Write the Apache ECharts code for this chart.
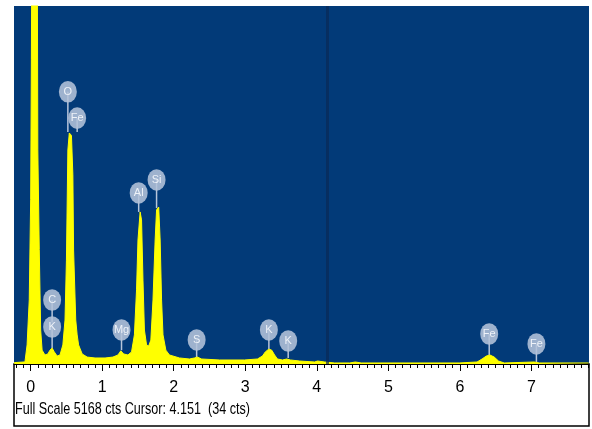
<!DOCTYPE html>
<html>
<head>
<meta charset="utf-8">
<script src="https://cdn.jsdelivr.net/npm/echarts@6/dist/echarts.min.js"></script>
<style>
  html, body { margin: 0; padding: 0; background: #fff; }
  #main { width: 592px; height: 429px; }
</style>
</head>
<body>
<div id="main"></div>
<script>
// spectrum (keV, counts)
var energy = [-0.23, -0.08, -0.05, -0.02, 0.00, 0.01, 0.02, 0.09, 0.10, 0.12,
  0.14, 0.16, 0.20, 0.24, 0.27, 0.30, 0.33, 0.37, 0.41, 0.45,
  0.48, 0.50, 0.52, 0.54, 0.57, 0.59, 0.60, 0.63, 0.65, 0.67,
  0.72, 0.79, 0.90, 1.04, 1.15, 1.22, 1.26, 1.30, 1.36, 1.41,
  1.45, 1.48, 1.50, 1.53, 1.55, 1.57, 1.59, 1.62, 1.65, 1.68,
  1.71, 1.74, 1.76, 1.79, 1.81, 1.83, 1.85, 1.89, 1.94, 2.08,
  2.22, 2.29, 2.33, 2.39, 2.64, 2.99, 3.17, 3.24, 3.28, 3.33,
  3.37, 3.41, 3.45, 3.52, 3.58, 3.63, 3.76, 3.97, 4.01, 4.11,
  4.25, 4.46, 4.54, 4.62, 5.15, 5.99, 6.24, 6.31, 6.37, 6.42,
  6.48, 6.54, 6.62, 7.04, 7.11, 7.80]
var counts = [20, 30, 275, 925, 2370, 4390, 7000, 7000, 3090, 1650,
  490, 200, 130, 145, 200, 230, 175, 115, 130, 275,
  635, 1500, 3090, 3335, 3300, 2730, 1645, 635, 420, 275,
  145, 100, 87, 87, 100, 130, 190, 145, 130, 175,
  420, 1070, 1790, 2195, 2080, 1210, 490, 275, 260, 345,
  925, 1790, 2225, 2265, 1790, 925, 420, 200, 130, 87,
  72, 87, 100, 72, 58, 58, 72, 115, 175, 215,
  200, 130, 72, 58, 72, 58, 43, 29, 43, 29,
  15, 15, 29, 15, 15, 15, 29, 72, 115, 130,
  100, 43, 15, 29, 15, 15]

// element markers: name, label position, where the stem ends
var peakNames = ['O', 'Fe', 'C', 'K', 'Mg', 'Al', 'Si', 'S', 'K', 'K', 'Fe', 'Fe']
var peakX = [0.52, 0.65, 0.30, 0.30, 1.27, 1.51, 1.76, 2.32, 3.33, 3.60, 6.41, 7.07]
var peakY = [3930, 3550, 924, 534, 491, 2469, 2657, 347, 491, 332, 433, 289]
var stemY = [3350, 3350, 600, 230, 200, 2195, 2250, 100, 215, 87, 130, 29]

var majorTicks = [0, 1, 2, 3, 4, 5, 6, 7]
var fullScale = 5168
var cursorKeV = 4.151
var cursorCts = 34
var xMin = -0.233
var xMax = 7.805

var minorTicks = []
for (var t = -2; t <= 78; t++) minorTicks.push(t / 10)

var spectrum = energy.map(function (e, i) { return [e, counts[i]] })
var peaks = peakX.map(function (x, i) { return [x, peakY[i], stemY[i], i] })

var chart = echarts.init(document.getElementById('main'))
var option = {
  animation: false,
  backgroundColor: '#fff',
  grid: {
    left: 14, right: 3, top: 6, bottom: 65,
    show: true, backgroundColor: '#023a78', borderWidth: 0
  },
  xAxis: [{
    type: 'value', min: xMin, max: xMax, position: 'bottom',
    axisLine: { show: true, lineStyle: { color: '#000', width: 1 } },
    axisTick: { show: true, customValues: majorTicks, length: 7, lineStyle: { color: '#000' } },
    axisLabel: {
      customValues: majorTicks, color: '#000', fontSize: 16, margin: 16,
      fontFamily: 'Liberation Sans Narrow, Liberation Sans, sans-serif'
    },
    splitLine: { show: false }
  }, {
    // minor ticks every 0.1 keV
    type: 'value', min: xMin, max: xMax, position: 'bottom',
    axisLine: { show: false },
    axisTick: { show: true, customValues: minorTicks, length: 4, lineStyle: { color: '#000' } },
    axisLabel: { show: false },
    splitLine: { show: false }
  }],
  yAxis: { type: 'value', min: 0, max: fullScale, show: false },
  graphic: [
    {
      type: 'rect', shape: { x: 14, y: 364, width: 575, height: 62 },
      style: { fill: null, stroke: '#000', lineWidth: 1.5 }
    },
    {
      type: 'text', x: 575, y: 13, scaleX: 0.8, originX: 575,
      style: { text: 'Spectrum 2', fill: '#c9ef3a', font: '13px Liberation Sans', align: 'right' }
    },
    {
      type: 'text', x: 15, y: 401, scaleX: 0.74,
      style: { text: 'Full Scale ' + fullScale + ' cts Cursor: ' + cursorKeV + '  (' + cursorCts + ' cts)', fill: '#000', font: '17px Liberation Sans' }
    },
    {
      type: 'text', x: 589, y: 401, scaleX: 0.74, originX: 589,
      style: { text: 'keV', fill: '#000', font: '17px Liberation Sans', align: 'right' }
    }
  ],
  series: [{
    type: 'line',
    data: spectrum,
    symbol: 'none',
    clip: true,
    lineStyle: { color: '#ffff00', width: 1 },
    areaStyle: { color: '#ffff00', opacity: 1 },
    markLine: {
      silent: true,
      symbol: ['none', 'none'],
      label: { show: false },
      lineStyle: { color: '#0a2a55', width: 3, type: 'solid', opacity: 0.7 },
      data: [{ xAxis: cursorKeV }]
    }
  }, {
    type: 'custom',
    data: peaks,
    encode: { x: 0, y: 1 },
    renderItem: function (params, api) {
      var c = api.coord([api.value(0), api.value(1)])
      var s = api.coord([api.value(0), api.value(2)])
      var name = peakNames[api.value(3)]
      return {
        type: 'group',
        children: [
          { type: 'line', shape: { x1: c[0], y1: c[1], x2: s[0], y2: s[1] }, style: { stroke: '#b7c5da', lineWidth: 1.5 } },
          { type: 'circle', x: c[0], y: c[1], scaleY: 1.2, shape: { cx: 0, cy: 0, r: 9 }, style: { fill: 'rgba(180,195,218,0.88)' } },
          { type: 'text', x: c[0], y: c[1], style: { text: name, fill: '#eef2f8', font: '11px Liberation Sans', align: 'center', verticalAlign: 'middle' } }
        ]
      }
    }
  }]
}
chart.setOption(option)
</script>
</body>
</html>
